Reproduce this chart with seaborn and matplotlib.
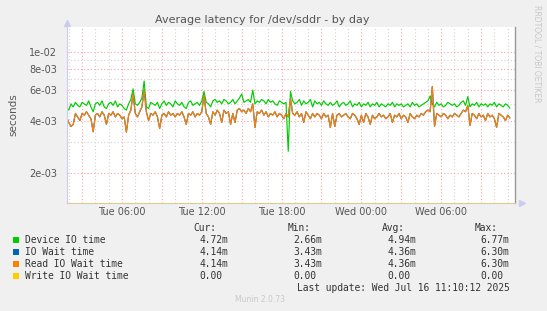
import matplotlib
matplotlib.use("Agg")
import matplotlib.pyplot as plt
import matplotlib.dates as mdates
from matplotlib.ticker import FixedLocator, NullFormatter, FuncFormatter
import pandas as pd
import seaborn as sns

# sample times (10 minute steps)
t_start = "2025-07-15 01:50"
t_end = "2025-07-16 11:10"
t_step = "10min"

# values in milliseconds
device_io = [
    4.7, 4.6, 5.0, 4.8, 5.1, 4.9, 4.8, 5.1, 5.0, 4.9,
    5.2, 4.8, 4.5, 5.0, 5.1, 4.9, 5.2, 4.8, 4.7, 5.0,
    5.1, 4.9, 5.2, 4.8, 5.0, 4.9, 4.7, 4.6, 5.0, 5.3,
    6.1, 5.0, 4.9, 5.1, 5.4, 6.77, 4.8, 4.7, 5.1, 5.0,
    4.9, 5.1, 4.7, 5.0, 5.2, 4.9, 5.1, 5.0, 4.8, 5.2,
    5.0, 4.9, 5.1, 4.8, 4.7, 5.1, 5.2, 4.9, 5.0, 5.1,
    4.9, 5.2, 5.9, 5.1, 5.0, 4.8, 5.2, 5.3, 5.1, 5.2,
    5.0, 5.3, 5.2, 5.0, 5.1, 5.3, 5.0, 5.2, 5.4, 5.7,
    5.1, 5.2, 5.3, 5.1, 6.0, 5.0, 5.2, 5.1, 5.3, 5.2,
    5.0, 5.3, 5.1, 5.2, 5.0, 4.9, 5.2, 5.1, 5.0, 5.1,
    2.66, 5.9, 5.2, 5.0, 5.1, 5.3, 4.9, 5.2, 5.0, 5.1,
    5.3, 4.8, 5.2, 5.0, 5.1, 4.9, 5.2, 5.0, 4.9, 5.1,
    4.9, 5.0, 5.2, 4.8, 5.0, 5.1, 4.9, 5.0, 5.2, 4.8,
    5.0, 4.9, 5.1, 4.8, 5.0, 4.9, 5.1, 4.8, 5.0, 4.9,
    5.1, 4.8, 5.0, 4.9, 4.8, 5.0, 4.9, 5.1, 4.8, 5.0,
    4.9, 5.0, 4.8, 4.9, 5.0, 4.8, 5.1, 4.9, 5.0, 4.8,
    4.9, 5.0, 5.1, 5.2, 5.55, 5.0, 4.8, 5.1, 4.9, 5.0,
    4.8, 4.9, 5.1, 5.0, 4.9, 5.0, 4.8, 4.9, 5.1, 5.2,
    4.9, 5.5, 4.8, 5.0, 4.9, 5.1, 4.8, 5.0, 4.9, 5.0,
    4.8, 5.0, 4.9, 5.1, 4.8, 5.0, 4.9, 4.8, 5.0, 4.9,
    4.72,
]
read_io_wait = [
    4.2, 3.9, 3.7, 3.8, 4.4, 4.2, 4.0, 4.4, 4.3, 4.5,
    4.3, 4.1, 3.45, 4.3, 4.4, 4.2, 4.5, 4.3, 3.8, 4.4,
    4.3, 4.5, 4.2, 4.4, 4.3, 4.1, 4.2, 3.43, 4.3, 4.6,
    5.7, 4.4, 4.2, 4.5, 4.8, 6.0, 4.5, 4.0, 4.4, 4.3,
    4.5, 4.2, 3.6, 4.3, 4.4, 4.2, 4.5, 4.3, 4.4, 4.2,
    4.4, 4.3, 4.5, 4.2, 3.8, 4.4, 4.3, 4.5, 4.2, 4.4,
    4.3, 4.5, 5.6, 4.4, 4.2, 3.8, 4.5, 4.3, 4.6, 4.4,
    3.9, 4.6, 4.4, 4.5, 3.8, 4.4, 3.9, 4.6, 4.7, 4.5,
    4.6, 4.4, 4.7, 4.5, 5.0, 3.65, 4.5, 4.4, 4.6, 4.3,
    4.5, 4.2, 4.4, 4.3, 4.5, 4.2, 4.4, 4.3, 4.1, 4.4,
    4.2, 5.35, 4.4, 4.3, 4.5, 4.2, 4.4, 3.9, 4.5, 4.3,
    4.1, 4.4, 4.2, 4.4, 4.3, 4.1, 4.4, 4.2, 4.3, 3.65,
    4.4, 3.7, 4.3, 4.4, 4.2, 4.3, 4.4, 4.2, 4.1, 4.4,
    4.3, 4.1, 3.8, 4.3, 3.9, 4.4, 4.2, 3.8, 4.3, 4.1,
    4.2, 4.4, 4.2, 4.3, 4.1, 4.2, 4.4, 3.9, 4.3, 4.2,
    4.4, 4.1, 4.3, 4.2, 3.9, 4.4, 4.2, 4.1, 4.3, 4.2,
    4.4, 4.3, 4.5, 4.6, 4.5, 6.3, 3.7, 4.4, 4.3, 4.2,
    4.4, 4.3, 4.1, 4.3, 4.2, 4.4, 4.3, 4.2, 4.4, 4.6,
    4.5, 4.9, 3.75, 4.4, 4.3, 4.1, 4.4, 4.2, 4.3, 4.0,
    4.4, 4.2, 4.3, 4.1, 3.65, 4.4, 4.3, 4.2, 4.0, 4.3,
    4.14,
]
io_wait = list(read_io_wait)  # same as read wait in the source graph

series_names = ["Device IO time", "IO Wait time", "Read IO Wait time", "Write IO Wait time"]
series_colors = ["#00CC00", "#0066B3", "#FF8000", "#FFCC00"]
cur_vals = ["4.72m", "4.14m", "4.14m", "0.00"]
min_vals = ["2.66m", "3.43m", "3.43m", "0.00"]
avg_vals = ["4.94m", "4.36m", "4.36m", "0.00"]
max_vals = ["6.77m", "6.30m", "6.30m", "0.00"]

y_major = [2e-3, 4e-3, 6e-3, 8e-3, 1e-2]
y_minor = [3e-3, 5e-3, 7e-3, 9e-3]

times = pd.date_range(t_start, t_end, freq=t_step)
frames = []
for name, vals in zip(series_names[:3], [device_io, io_wait, read_io_wait]):
    frames.append(pd.DataFrame({"time": times, "value": [v * 1e-3 for v in vals], "series": name}))
df = pd.concat(frames, ignore_index=True)

sns.set_style("white")
W, H = 547, 311
fig = plt.figure(figsize=(W / 100, H / 100), dpi=100, facecolor="#F0F0F0")
ax = fig.add_axes([67 / W, 1 - 203 / H, (515 - 67) / W, (203 - 27) / H])
ax.set_facecolor("white")

sns.lineplot(data=df, x="time", y="value", hue="series", hue_order=series_names[:3],
             palette=series_colors[:3], linewidth=0.85, legend=False, estimator=None, ax=ax)

ax.set_yscale("log")
ax.set_ylim(1.336e-3, 1.39e-2)
ax.set_xlim(pd.Timestamp("2025-07-15 01:52"), pd.Timestamp("2025-07-16 11:33"))

ax.yaxis.set_major_locator(FixedLocator(y_major))
ax.yaxis.set_minor_locator(FixedLocator(y_minor))
ax.yaxis.set_major_formatter(FuncFormatter(lambda v, p: f"{v:.0e}"))
ax.yaxis.set_minor_formatter(NullFormatter())

ax.xaxis.set_major_locator(mdates.HourLocator(byhour=range(0, 24, 3)))
ax.xaxis.set_minor_locator(mdates.HourLocator())
ax.xaxis.set_major_formatter(FuncFormatter(
    lambda v, p: mdates.num2date(v).strftime("%a %H:%M") if mdates.num2date(v).hour % 6 == 0 else ""))

ax.set_axisbelow(True)
ax.grid(which="major", color="#FFA3A3", linestyle=(0, (1, 2)), linewidth=0.8)
ax.grid(which="minor", color="#D2D2D2", linestyle=(0, (1, 2)), linewidth=0.8)
ax.tick_params(which="both", length=0, labelsize=7, labelcolor="#555555")
ax.tick_params(axis="y", pad=7)
ax.tick_params(axis="x", pad=3)
ax.set_xlabel("")
ax.set_ylabel("seconds", fontsize=7.5, color="#555555", labelpad=8)

ax.spines["top"].set_visible(False)
ax.spines["left"].set_color("#CCCCF0")
ax.spines["bottom"].set_color("#D8CC99")
ax.spines["right"].set_color("#999999")
ax.spines["right"].set_linewidth(1.0)
ax.plot([0], [1.02], marker="^", color="#CCCCF0", markersize=4, transform=ax.transAxes, clip_on=False)
ax.plot([1.015], [0], marker=">", color="#CCCCF0", markersize=4, transform=ax.transAxes, clip_on=False)

fig.text(262 / W, 1 - 20 / H, "Average latency for /dev/sddr - by day", ha="center", va="center",
         fontsize=8, color="#555555")
fig.text(537 / W, 1 - 5 / H, "RRDTOOL / TOBI OETIKER", rotation=270, ha="center", va="top",
         fontsize=5.5, color="#C8C8C8")

mono = "DejaVu Sans Mono"
fs = 6.9
tc = "#333333"
col_hdr = [(193, "Cur:"), (288, "Min:"), (382, "Avg:"), (475, "Max:")]
for x, txt in col_hdr:
    fig.text(x / W, 1 - 228 / H, txt, family=mono, fontsize=fs, color=tc, va="center")
row_y = [240, 252, 264, 276]
for i, name in enumerate(series_names):
    y = 1 - row_y[i] / H
    fig.patches.append(plt.Rectangle((13 / W, y - 3 / H), 6 / W, 6 / H, transform=fig.transFigure,
                                     facecolor=series_colors[i], edgecolor="none"))
    fig.text(25 / W, y, name, family=mono, fontsize=fs, color=tc, va="center")
    for x, vals in zip([199, 293, 387, 480], [cur_vals, min_vals, avg_vals, max_vals]):
        fig.text(x / W, y, vals[i], family=mono, fontsize=fs, color=tc, va="center")
fig.text(297 / W, 1 - 288 / H, "Last update: Wed Jul 16 11:10:12 2025", family=mono, fontsize=fs,
         color=tc, va="center")
fig.text(260 / W, 1 - 300 / H, "Munin 2.0.73", ha="center", va="center", fontsize=5.5, color="#C8C8C8")

fig.savefig("out.png", dpi=100, facecolor=fig.get_facecolor())
